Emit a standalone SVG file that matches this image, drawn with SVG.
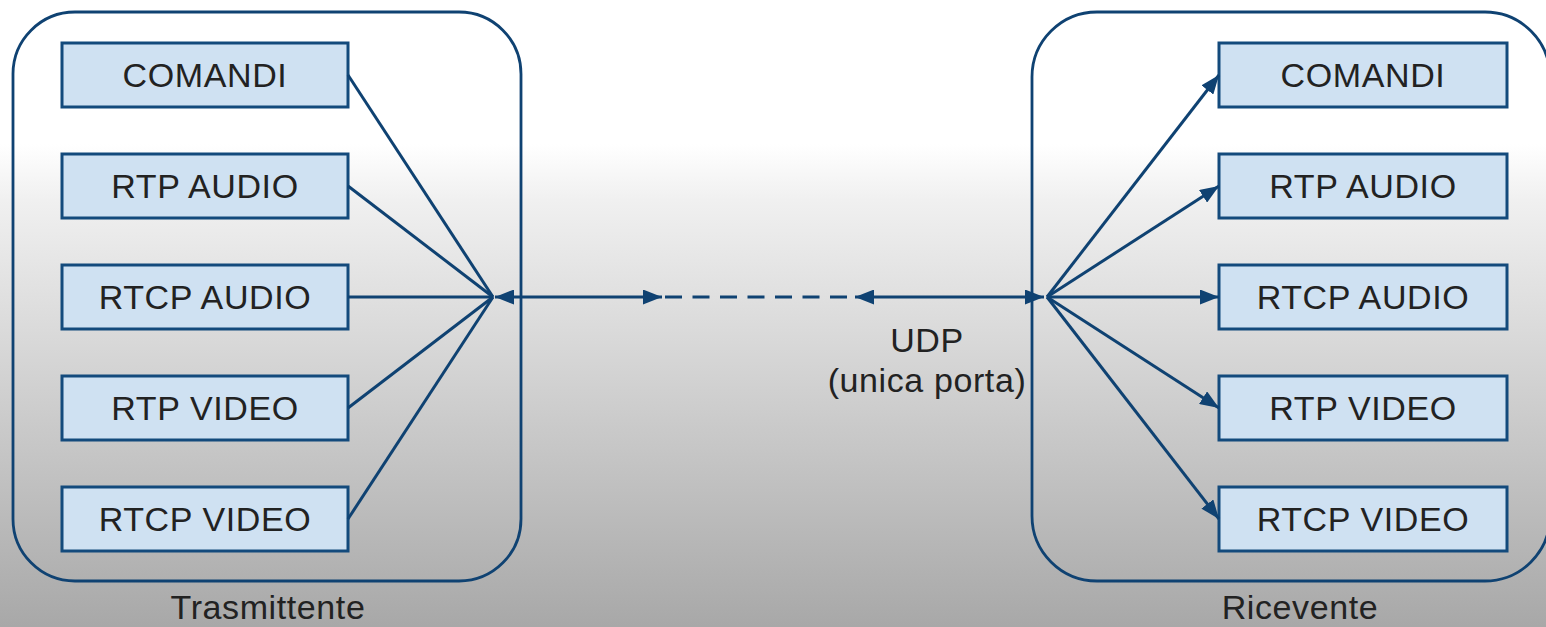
<svg xmlns="http://www.w3.org/2000/svg" width="1546" height="627" viewBox="0 0 1546 627">
  <defs>
    <linearGradient id="bg" x1="0" y1="0" x2="0" y2="1">
      <stop offset="0" stop-color="#ffffff"/>
      <stop offset="0.23" stop-color="#ffffff"/>
      <stop offset="0.32" stop-color="#f0f0f0"/>
      <stop offset="1" stop-color="#a8a8a8"/>
    </linearGradient>
    <marker id="arrow" viewBox="0 0 19 15" refX="19" refY="7.5" markerWidth="19" markerHeight="15" markerUnits="userSpaceOnUse" orient="auto-start-reverse">
      <path d="M0,0 L19,7.5 L0,15 Z" fill="#0f4272"/>
    </marker>
    <style>
      .container { fill: none; stroke: #0f4272; stroke-width: 2.8; }
      .box { fill: #cfe1f2; stroke: #134a7c; stroke-width: 3; }
      .label { font-family: "Liberation Sans", Arial, sans-serif; font-size: 34px; letter-spacing: 0.6px; fill: #222222; text-anchor: middle; }
      .conn { fill: none; stroke: #0f4272; stroke-width: 3; }
      .dash { stroke-dasharray: 17 10.5; }
    </style>
  </defs>
  <rect x="0" y="0" width="1546" height="627" fill="url(#bg)"/>

  <g id="trasmittente">
    <rect class="container" x="13" y="12" width="508" height="569" rx="62" ry="62"/>
    <text class="label" x="268" y="619">Trasmittente</text>
  </g>
  <g id="ricevente">
    <rect class="container" x="1032" y="12" width="518" height="569" rx="65" ry="65"/>
    <text class="label" x="1300" y="619">Ricevente</text>
  </g>

  <g id="tx-comandi"><rect class="box" x="62" y="43" width="286" height="64"/><text class="label" x="205" y="87">COMANDI</text></g>
  <g id="tx-rtp-audio"><rect class="box" x="62" y="154" width="286" height="64"/><text class="label" x="205" y="198">RTP AUDIO</text></g>
  <g id="tx-rtcp-audio"><rect class="box" x="62" y="265" width="286" height="64"/><text class="label" x="205" y="309">RTCP AUDIO</text></g>
  <g id="tx-rtp-video"><rect class="box" x="62" y="376" width="286" height="64"/><text class="label" x="205" y="420">RTP VIDEO</text></g>
  <g id="tx-rtcp-video"><rect class="box" x="62" y="487" width="286" height="64"/><text class="label" x="205" y="531">RTCP VIDEO</text></g>

  <g id="rx-comandi"><rect class="box" x="1219" y="43" width="288" height="64"/><text class="label" x="1363" y="87">COMANDI</text></g>
  <g id="rx-rtp-audio"><rect class="box" x="1219" y="154" width="288" height="64"/><text class="label" x="1363" y="198">RTP AUDIO</text></g>
  <g id="rx-rtcp-audio"><rect class="box" x="1219" y="265" width="288" height="64"/><text class="label" x="1363" y="309">RTCP AUDIO</text></g>
  <g id="rx-rtp-video"><rect class="box" x="1219" y="376" width="288" height="64"/><text class="label" x="1363" y="420">RTP VIDEO</text></g>
  <g id="rx-rtcp-video"><rect class="box" x="1219" y="487" width="288" height="64"/><text class="label" x="1363" y="531">RTCP VIDEO</text></g>

  <g id="udp-label">
    <text class="label" x="927" y="352">UDP</text>
    <text class="label" x="927" y="392">(unica porta)</text>
  </g>

  <g id="connectors">
    <line class="conn" x1="348" y1="75" x2="493" y2="297"/>
    <line class="conn" x1="348" y1="186" x2="493" y2="297"/>
    <line class="conn" x1="348" y1="297" x2="493" y2="297"/>
    <line class="conn" x1="348" y1="408" x2="493" y2="297"/>
    <line class="conn" x1="348" y1="519" x2="493" y2="297"/>

    <line class="conn" x1="495" y1="297" x2="662" y2="297" marker-start="url(#arrow)" marker-end="url(#arrow)"/>
    <line class="conn dash" x1="665" y1="297" x2="853" y2="297"/>
    <line class="conn" x1="855" y1="297" x2="1044" y2="297" marker-start="url(#arrow)" marker-end="url(#arrow)"/>

    <line class="conn" x1="1047" y1="297" x2="1219" y2="75" marker-end="url(#arrow)"/>
    <line class="conn" x1="1047" y1="297" x2="1219" y2="186" marker-end="url(#arrow)"/>
    <line class="conn" x1="1047" y1="297" x2="1219" y2="297" marker-end="url(#arrow)"/>
    <line class="conn" x1="1047" y1="297" x2="1219" y2="408" marker-end="url(#arrow)"/>
    <line class="conn" x1="1047" y1="297" x2="1219" y2="519" marker-end="url(#arrow)"/>
  </g>
</svg>
